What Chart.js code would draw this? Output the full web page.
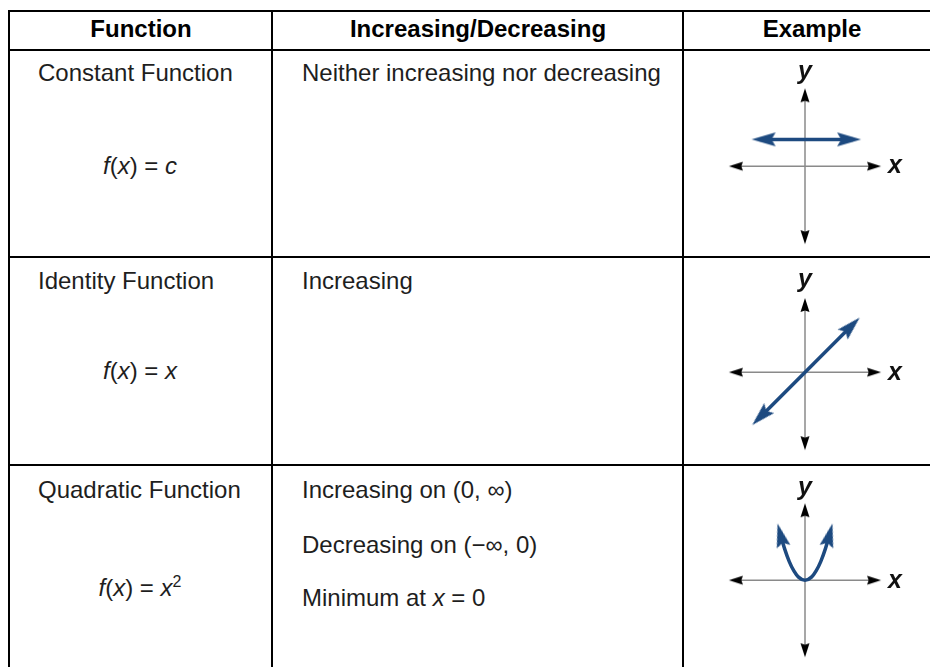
<!DOCTYPE html>
<html>
<head>
<meta charset="utf-8">
<script src="https://cdn.jsdelivr.net/npm/chart.js@4.4.1/dist/chart.umd.min.js"></script>
<style>
  html, body { margin: 0; padding: 0; background: #fff; }
  #page { position: relative; width: 930px; height: 667px; overflow: hidden;
          font-family: "Liberation Sans", Arial, sans-serif; color: #1e1e1e; }
  .ln { position: absolute; background: #000; }
  .t { position: absolute; font-size: 24px; line-height: 1; white-space: nowrap; transform: translateY(-50%); }
  .c { transform: translate(-50%, -50%); }
  .h { font-weight: bold; color: #000; }
  .lab { position: absolute; font-size: 25px; line-height: 1; font-style: italic; font-weight: bold; color: #111; transform: translate(-50%, -50%); }
  sup { font-size: 16px; vertical-align: 0; position: relative; top: -9px; }
  canvas.ex { position: absolute; left: 705px; }
</style>
</head>
<body>
<div id="page">
  <!-- table lines -->
  <div class="ln" style="left:8px;top:10px;width:940px;height:2px"></div>
  <div class="ln" style="left:8px;top:49px;width:940px;height:2px"></div>
  <div class="ln" style="left:8px;top:256px;width:940px;height:2px"></div>
  <div class="ln" style="left:8px;top:464px;width:940px;height:2px"></div>
  <div class="ln" style="left:8px;top:10px;width:2px;height:700px"></div>
  <div class="ln" style="left:271px;top:10px;width:2px;height:700px"></div>
  <div class="ln" style="left:682px;top:10px;width:2px;height:700px"></div>

  <!-- header -->
  <div class="t c h" style="left:141px;top:29px">Function</div>
  <div class="t c h" style="left:478px;top:29px">Increasing/Decreasing</div>
  <div class="t c h" style="left:812px;top:29px">Example</div>

  <!-- row 1 -->
  <div class="t" style="left:38px;top:73px">Constant Function</div>
  <div class="t c" style="left:140px;top:166px"><i>f</i>(<i>x</i>) = <i>c</i></div>
  <div class="t" style="left:302px;top:73px">Neither increasing nor decreasing</div>

  <!-- row 2 -->
  <div class="t" style="left:38px;top:281px">Identity Function</div>
  <div class="t c" style="left:140px;top:371px"><i>f</i>(<i>x</i>) = <i>x</i></div>
  <div class="t" style="left:302px;top:281px">Increasing</div>

  <!-- row 3 -->
  <div class="t" style="left:38px;top:490px">Quadratic Function</div>
  <div class="t c" style="left:140px;top:588px"><i>f</i>(<i>x</i>) = <i>x</i><sup>2</sup></div>
  <div class="t" style="left:302px;top:490px">Increasing on (0, ∞)</div>
  <div class="t" style="left:302px;top:545px">Decreasing on (−∞, 0)</div>
  <div class="t" style="left:302px;top:598px">Minimum at <i>x</i> = 0</div>

  <!-- example graphs -->
  <canvas class="ex" id="ex1" width="200" height="200" style="top:57px"></canvas>
  <canvas class="ex" id="ex2" width="200" height="200" style="top:263px"></canvas>
  <canvas class="ex" id="ex3" width="200" height="200" style="top:471px"></canvas>

  <div class="lab" style="left:805px;top:70px">y</div>
  <div class="lab" style="left:895px;top:164px">x</div>
  <div class="lab" style="left:805px;top:278px">y</div>
  <div class="lab" style="left:895px;top:371px">x</div>
  <div class="lab" style="left:805px;top:486px">y</div>
  <div class="lab" style="left:895px;top:579px">x</div>
</div>

<script>
// datos de los ejes (unidades: 1 = 10px)
const axisX = [-7.9, 7.9];
const axisY1 = [8.1, -8.1];
const axisY2 = [7.7, -8.1];
const axisY3 = [8.0, -8.0];

// f(x) = c
const constX = [-4.9, 5.2];
const constY = [2.9, 2.9];

// f(x) = x
const identX = [-5.1, 5.3];
const identY = [-5.1, 5.3];

// f(x) = x^2
const quadX = [-2.75, -2.2, -1.7, -1.2, -0.7, 0, 0.7, 1.2, 1.7, 2.2, 2.75];
const quadY = [5.3, 3.39, 2.02, 1.01, 0.34, 0, 0.34, 1.01, 2.02, 3.39, 5.3];

const azul = '#1d4a80';
const gris = '#8a8a8a';

// punta de flecha como imagen para pointStyle
function punta(color, len, half, off, notch) {
  const c = document.createElement('canvas');
  const w = 2 * Math.ceil(Math.max(off, len - off) + 1);
  const h = 2 * Math.ceil(half + 1);
  c.width = w;
  c.height = h;
  const g = c.getContext('2d');
  const cx = w / 2, cy = h / 2, tip = cx + off;
  g.fillStyle = color;
  g.beginPath();
  g.moveTo(tip, cy);
  g.lineTo(tip - len, cy - half);
  g.lineTo(tip - len + notch, cy);
  g.lineTo(tip - len, cy + half);
  g.closePath();
  g.fill();
  return c;
}

const flechaAzul = punta(azul, 24, 7, 8, 4);
const flechaEje = punta('#000', 14, 4.5, 3, 1.5);

function puntos(xs, ys) {
  return xs.map((x, i) => ({x: x, y: ys[i]}));
}

function radios(n) {
  return Array.from({length: n}, (_, i) => (i === 0 || i === n - 1) ? 1 : 0);
}

function grafico(id, curva, rot, ejeY, suave) {
  const ctx = document.getElementById(id).getContext('2d');
  return new Chart(ctx, {
    type: 'scatter',
    data: {
      datasets: [
        {
          data: curva,
          showLine: true,
          borderColor: azul,
          borderWidth: 3.5,
          cubicInterpolationMode: suave ? 'monotone' : 'default',
          pointRadius: radios(curva.length),
          pointStyle: flechaAzul,
          pointRotation: rot
        },
        {
          data: puntos(axisX, [0, 0]),
          showLine: true,
          borderColor: gris,
          borderWidth: 1.5,
          pointRadius: 1,
          pointStyle: flechaEje,
          pointRotation: [180, 0]
        },
        {
          data: puntos([0, 0], ejeY),
          showLine: true,
          borderColor: gris,
          borderWidth: 1.5,
          pointRadius: 1,
          pointStyle: flechaEje,
          pointRotation: [-90, 90]
        }
      ]
    },
    options: {
      responsive: false,
      animation: false,
      events: [],
      layout: { padding: 0 },
      plugins: { legend: { display: false }, tooltip: { enabled: false } },
      scales: {
        x: { type: 'linear', min: -10, max: 10, display: false },
        y: { type: 'linear', min: -9, max: 11, display: false }
      }
    }
  });
}

const rotQuad = radios(quadX.length).map((r, i) => i === 0 ? -104.6 : -75.4);

grafico('ex1', puntos(constX, constY), [180, 0], axisY1, false);
grafico('ex2', puntos(identX, identY), [135, -45], axisY2, false);
grafico('ex3', puntos(quadX, quadY), rotQuad, axisY3, true);
</script>
</body>
</html>
